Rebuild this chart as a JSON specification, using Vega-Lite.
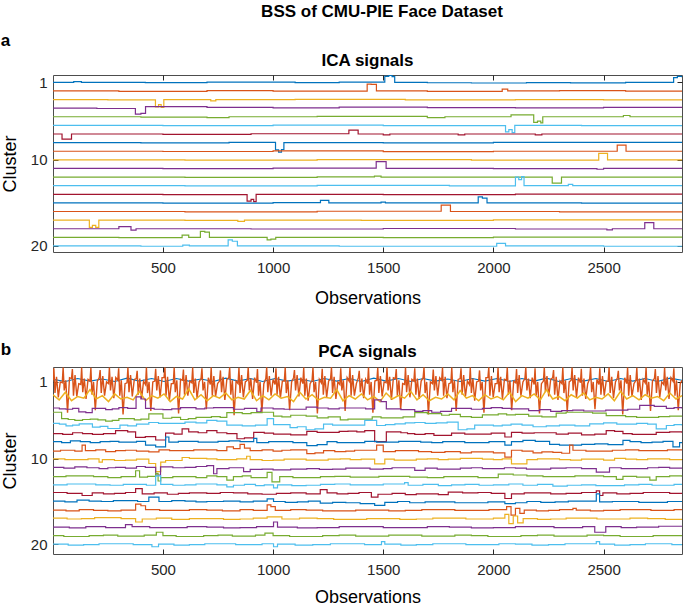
{
"$schema":"https://vega.github.io/schema/vega-lite/v6.json",
"padding":{"top":3,"left":0,"right":2,"bottom":0},
"config":{
"font":"Liberation Sans",
"view":{"stroke":"#4d4d4d","strokeWidth":1},
"axis":{"grid":false,"domain":false,"tickColor":"#262626","tickSize":-5,"tickWidth":1,"labelFontSize":15,"labelColor":"#262626","titleFontSize":18,"titleFontWeight":"normal","titleColor":"#000","labelFont":"Liberation Sans","titleFont":"Liberation Sans"},
"title":{"fontSize":17,"fontWeight":"bold","font":"Liberation Sans","color":"#000"}
},
"title":{"text":"BSS of CMU-PIE Face Dataset","anchor":"middle","fontSize":17,"dx":39,"dy":-7},
"spacing":33,
"datasets":{
"ica":[
{"k":1,"x":1,"y":1},{"k":1,"x":95,"y":0.92},{"k":1,"x":130,"y":1},{"k":1,"x":420,"y":1.04},{"k":1,"x":700,"y":0.97},{"k":1,"x":1100,"y":1.04},{"k":1,"x":1300,"y":0.97},{"k":1,"x":1507,"y":0.3},{"k":1,"x":1525,"y":0.2},{"k":1,"x":1540,"y":0.35},{"k":1,"x":1552,"y":1},{"k":1,"x":1700,"y":1.05},{"k":1,"x":1900,"y":1.08},{"k":1,"x":2150,"y":1.03},{"k":1,"x":2350,"y":1.07},{"k":1,"x":2600,"y":1},{"k":1,"x":2818,"y":0.45},{"k":1,"x":2835,"y":0.3},{"k":1,"x":2856,"y":0.4},
{"k":2,"x":1,"y":2},{"k":2,"x":300,"y":2.04},{"k":2,"x":700,"y":1.97},{"k":2,"x":1000,"y":2.03},{"k":2,"x":1427,"y":1.2},{"k":2,"x":1445,"y":1.25},{"k":2,"x":1469,"y":2},{"k":2,"x":1700,"y":2.04},{"k":2,"x":2040,"y":1.8},{"k":2,"x":2065,"y":2},{"k":2,"x":2300,"y":1.96},{"k":2,"x":2600,"y":2.03},{"k":2,"x":2856,"y":2},
{"k":3,"x":1,"y":3},{"k":3,"x":250,"y":3.03},{"k":3,"x":466,"y":3.85},{"k":3,"x":480,"y":3.6},{"k":3,"x":492,"y":3.9},{"k":3,"x":504,"y":3},{"k":3,"x":717,"y":3.15},{"k":3,"x":740,"y":3},{"k":3,"x":1100,"y":2.97},{"k":3,"x":1600,"y":3.03},{"k":3,"x":2100,"y":3},{"k":3,"x":2500,"y":3.04},{"k":3,"x":2856,"y":3},
{"k":4,"x":1,"y":4},{"k":4,"x":200,"y":4.04},{"k":4,"x":375,"y":4.7},{"k":4,"x":400,"y":4.6},{"k":4,"x":421,"y":3.83},{"k":4,"x":700,"y":3.9},{"k":4,"x":1000,"y":3.96},{"k":4,"x":1300,"y":3.89},{"k":4,"x":1700,"y":3.94},{"k":4,"x":2100,"y":3.96},{"k":4,"x":2500,"y":3.9},{"k":4,"x":2856,"y":3.95},
{"k":5,"x":1,"y":5},{"k":5,"x":400,"y":5.04},{"k":5,"x":700,"y":5.09},{"k":5,"x":800,"y":5},{"k":5,"x":1200,"y":4.96},{"k":5,"x":1700,"y":5.09},{"k":5,"x":1780,"y":5},{"k":5,"x":2080,"y":4.78},{"k":5,"x":2183,"y":5.65},{"k":5,"x":2200,"y":5.5},{"k":5,"x":2215,"y":5.7},{"k":5,"x":2224,"y":5},{"k":5,"x":2590,"y":4.85},{"k":5,"x":2620,"y":5},{"k":5,"x":2856,"y":5.02},
{"k":6,"x":1,"y":6},{"k":6,"x":500,"y":6.03},{"k":6,"x":1000,"y":5.97},{"k":6,"x":1500,"y":6.03},{"k":6,"x":2055,"y":6.75},{"k":6,"x":2070,"y":6.5},{"k":6,"x":2085,"y":6.85},{"k":6,"x":2097,"y":6},{"k":6,"x":2400,"y":6.03},{"k":6,"x":2856,"y":6},
{"k":7,"x":1,"y":7},{"k":7,"x":42,"y":7.6},{"k":7,"x":85,"y":7},{"k":7,"x":500,"y":7.04},{"k":7,"x":900,"y":6.97},{"k":7,"x":1344,"y":6.55},{"k":7,"x":1386,"y":7},{"k":7,"x":1500,"y":7.1},{"k":7,"x":1530,"y":7},{"k":7,"x":1840,"y":7.1},{"k":7,"x":1870,"y":7},{"k":7,"x":2190,"y":7.1},{"k":7,"x":2220,"y":7},{"k":7,"x":2856,"y":7.02},
{"k":8,"x":1,"y":8},{"k":8,"x":400,"y":8.03},{"k":8,"x":800,"y":7.97},{"k":8,"x":1011,"y":8.85},{"k":8,"x":1025,"y":9.1},{"k":8,"x":1038,"y":8.8},{"k":8,"x":1049,"y":8},{"k":8,"x":1500,"y":8.03},{"k":8,"x":2000,"y":7.97},{"k":8,"x":2856,"y":8},
{"k":9,"x":1,"y":9},{"k":9,"x":500,"y":9.03},{"k":9,"x":1000,"y":8.97},{"k":9,"x":1500,"y":9.04},{"k":9,"x":2000,"y":9},{"k":9,"x":2562,"y":8.3},{"k":9,"x":2602,"y":9},{"k":9,"x":2856,"y":9.02},
{"k":10,"x":1,"y":10},{"k":10,"x":600,"y":10.03},{"k":10,"x":1200,"y":9.97},{"k":10,"x":1900,"y":10.03},{"k":10,"x":2478,"y":9.25},{"k":10,"x":2518,"y":10},{"k":10,"x":2856,"y":10},
{"k":11,"x":1,"y":11},{"k":11,"x":500,"y":11.03},{"k":11,"x":1000,"y":10.97},{"k":11,"x":1468,"y":10.2},{"k":11,"x":1513,"y":11},{"k":11,"x":2000,"y":11.03},{"k":11,"x":2470,"y":11.09},{"k":11,"x":2500,"y":11},{"k":11,"x":2856,"y":11.02},
{"k":12,"x":1,"y":12},{"k":12,"x":600,"y":12.03},{"k":12,"x":1200,"y":11.97},{"k":12,"x":1460,"y":11.88},{"k":12,"x":1490,"y":12},{"k":12,"x":2267,"y":12.7},{"k":12,"x":2309,"y":12},{"k":12,"x":2856,"y":12.02},
{"k":13,"x":1,"y":13},{"k":13,"x":600,"y":13.03},{"k":13,"x":1200,"y":12.97},{"k":13,"x":1800,"y":13.03},{"k":13,"x":2100,"y":12},{"k":13,"x":2115,"y":12.3},{"k":13,"x":2128,"y":11.95},{"k":13,"x":2139,"y":13},{"k":13,"x":2340,"y":12.85},{"k":13,"x":2360,"y":13},{"k":13,"x":2856,"y":13},
{"k":14,"x":1,"y":14},{"k":14,"x":500,"y":14.03},{"k":14,"x":882,"y":14.8},{"k":14,"x":900,"y":14.6},{"k":14,"x":912,"y":14.85},{"k":14,"x":923,"y":14},{"k":14,"x":1500,"y":14.03},{"k":14,"x":2100,"y":13.97},{"k":14,"x":2856,"y":14},
{"k":15,"x":1,"y":15},{"k":15,"x":500,"y":15.03},{"k":15,"x":1000,"y":14.97},{"k":15,"x":1215,"y":14.7},{"k":15,"x":1253,"y":15},{"k":15,"x":1490,"y":14.9},{"k":15,"x":1510,"y":15},{"k":15,"x":1931,"y":14.3},{"k":15,"x":1950,"y":14.45},{"k":15,"x":1971,"y":15},{"k":15,"x":2400,"y":15.03},{"k":15,"x":2856,"y":15},
{"k":16,"x":1,"y":16},{"k":16,"x":600,"y":16.03},{"k":16,"x":1200,"y":15.97},{"k":16,"x":1763,"y":15.25},{"k":16,"x":1805,"y":16},{"k":16,"x":2300,"y":16.03},{"k":16,"x":2856,"y":16},
{"k":17,"x":1,"y":17},{"k":17,"x":166,"y":17.85},{"k":17,"x":180,"y":17.6},{"k":17,"x":195,"y":17.85},{"k":17,"x":209,"y":17},{"k":17,"x":600,"y":17.03},{"k":17,"x":840,"y":17.15},{"k":17,"x":870,"y":17},{"k":17,"x":1400,"y":17.03},{"k":17,"x":2000,"y":16.97},{"k":17,"x":2856,"y":17},
{"k":18,"x":1,"y":18},{"k":18,"x":300,"y":17.75},{"k":18,"x":355,"y":18.15},{"k":18,"x":378,"y":18},{"k":18,"x":900,"y":18.03},{"k":18,"x":1500,"y":17.97},{"k":18,"x":2100,"y":18.03},{"k":18,"x":2515,"y":18.12},{"k":18,"x":2540,"y":18},{"k":18,"x":2687,"y":17.3},{"k":18,"x":2728,"y":18},{"k":18,"x":2856,"y":18},
{"k":19,"x":1,"y":19},{"k":19,"x":300,"y":19.03},{"k":19,"x":587,"y":18.75},{"k":19,"x":617,"y":19},{"k":19,"x":670,"y":18.3},{"k":19,"x":690,"y":18.4},{"k":19,"x":711,"y":19},{"k":19,"x":973,"y":19.3},{"k":19,"x":990,"y":19.2},{"k":19,"x":1012,"y":19},{"k":19,"x":1500,"y":19.03},{"k":19,"x":2000,"y":18.97},{"k":19,"x":2856,"y":19},
{"k":20,"x":1,"y":20},{"k":20,"x":400,"y":20.03},{"k":20,"x":590,"y":19.9},{"k":20,"x":620,"y":20},{"k":20,"x":796,"y":19.3},{"k":20,"x":815,"y":19.45},{"k":20,"x":838,"y":20},{"k":20,"x":1300,"y":20.03},{"k":20,"x":2015,"y":19.7},{"k":20,"x":2055,"y":20},{"k":20,"x":2500,"y":20.03},{"k":20,"x":2856,"y":20}
],
"pcaTop":[
{"k":1,"x":1,"y":0.7},{"k":1,"x":57,"y":0.95},{"k":1,"x":113,"y":0.6},{"k":1,"x":169,"y":0.9},{"k":1,"x":225,"y":0.65},{"k":1,"x":281,"y":0.95},{"k":1,"x":337,"y":0.55},{"k":1,"x":393,"y":0.9},{"k":1,"x":449,"y":0.6},{"k":1,"x":505,"y":0.95},{"k":1,"x":561,"y":0.6},{"k":1,"x":617,"y":0.9},{"k":1,"x":673,"y":0.65},{"k":1,"x":729,"y":0.95},{"k":1,"x":785,"y":0.55},{"k":1,"x":841,"y":0.9},{"k":1,"x":897,"y":0.6},{"k":1,"x":953,"y":0.95},{"k":1,"x":1009,"y":0.6},{"k":1,"x":1065,"y":0.9},{"k":1,"x":1121,"y":0.65},{"k":1,"x":1177,"y":0.95},{"k":1,"x":1233,"y":0.6},{"k":1,"x":1289,"y":0.9},{"k":1,"x":1345,"y":0.6},{"k":1,"x":1401,"y":0.95},{"k":1,"x":1457,"y":0.55},{"k":1,"x":1513,"y":0.9},{"k":1,"x":1569,"y":0.6},{"k":1,"x":1625,"y":0.95},{"k":1,"x":1681,"y":0.6},{"k":1,"x":1737,"y":0.9},{"k":1,"x":1793,"y":0.65},{"k":1,"x":1849,"y":0.95},{"k":1,"x":1905,"y":0.6},{"k":1,"x":1961,"y":0.9},{"k":1,"x":2017,"y":0.6},{"k":1,"x":2073,"y":0.95},{"k":1,"x":2129,"y":0.6},{"k":1,"x":2185,"y":0.9},{"k":1,"x":2241,"y":0.55},{"k":1,"x":2297,"y":0.95},{"k":1,"x":2353,"y":0.6},{"k":1,"x":2409,"y":0.9},{"k":1,"x":2465,"y":0.6},{"k":1,"x":2521,"y":0.95},{"k":1,"x":2577,"y":0.6},{"k":1,"x":2633,"y":0.9},{"k":1,"x":2689,"y":0.6},{"k":1,"x":2745,"y":0.95},{"k":1,"x":2801,"y":0.55},{"k":1,"x":2856,"y":0.8},
{"k":2,"x":1,"y":0.8},{"k":2,"x":5,"y":-0.6},{"k":2,"x":10,"y":2.3},{"k":2,"x":17,"y":0.4},{"k":2,"x":25,"y":2.8},{"k":2,"x":34,"y":1.0},
{"k":2,"x":43,"y":1.1},{"k":2,"x":47,"y":-0.7},{"k":2,"x":52,"y":2.0},{"k":2,"x":59,"y":0.8},{"k":2,"x":67,"y":4.6},{"k":2,"x":76,"y":0.5},
{"k":2,"x":85,"y":0.6},{"k":2,"x":89,"y":-0.5},{"k":2,"x":94,"y":2.6},{"k":2,"x":101,"y":0.2},{"k":2,"x":109,"y":2.7},{"k":2,"x":118,"y":1.2},
{"k":2,"x":127,"y":1.3},{"k":2,"x":131,"y":-0.7},{"k":2,"x":136,"y":2.2},{"k":2,"x":143,"y":0.6},{"k":2,"x":151,"y":3.0},{"k":2,"x":160,"y":0.7},
{"k":2,"x":169,"y":0.9},{"k":2,"x":173,"y":-0.65},{"k":2,"x":178,"y":2.5},{"k":2,"x":185,"y":1.0},{"k":2,"x":193,"y":4.3},{"k":2,"x":202,"y":0.9},
{"k":2,"x":211,"y":0.5},{"k":2,"x":215,"y":-0.4},{"k":2,"x":220,"y":2.3},{"k":2,"x":227,"y":0.3},{"k":2,"x":235,"y":2.6},{"k":2,"x":244,"y":1.0},
{"k":2,"x":253,"y":1.2},{"k":2,"x":257,"y":-0.7},{"k":2,"x":262,"y":2.0},{"k":2,"x":269,"y":0.4},{"k":2,"x":277,"y":2.9},{"k":2,"x":286,"y":0.5},
{"k":2,"x":295,"y":0.8},{"k":2,"x":299,"y":-0.6},{"k":2,"x":304,"y":2.6},{"k":2,"x":311,"y":0.8},{"k":2,"x":319,"y":4.8},{"k":2,"x":328,"y":1.2},
{"k":2,"x":337,"y":1.1},{"k":2,"x":341,"y":-0.7},{"k":2,"x":346,"y":2.2},{"k":2,"x":353,"y":0.2},{"k":2,"x":361,"y":2.7},{"k":2,"x":370,"y":0.7},
{"k":2,"x":379,"y":0.6},{"k":2,"x":383,"y":-0.3},{"k":2,"x":388,"y":2.5},{"k":2,"x":395,"y":0.6},{"k":2,"x":403,"y":3.0},{"k":2,"x":412,"y":0.9},
{"k":2,"x":421,"y":1.3},{"k":2,"x":425,"y":-0.7},{"k":2,"x":430,"y":2.3},{"k":2,"x":437,"y":1.0},{"k":2,"x":445,"y":4.4},{"k":2,"x":454,"y":1.0},
{"k":2,"x":463,"y":0.9},{"k":2,"x":467,"y":-0.55},{"k":2,"x":472,"y":2.0},{"k":2,"x":479,"y":0.3},{"k":2,"x":487,"y":2.8},{"k":2,"x":496,"y":0.5},
{"k":2,"x":505,"y":0.5},{"k":2,"x":509,"y":-0.7},{"k":2,"x":514,"y":2.6},{"k":2,"x":521,"y":0.4},{"k":2,"x":529,"y":3.2},{"k":2,"x":538,"y":1.2},
{"k":2,"x":547,"y":1.2},{"k":2,"x":551,"y":-0.7},{"k":2,"x":556,"y":2.2},{"k":2,"x":563,"y":0.8},{"k":2,"x":571,"y":4.7},{"k":2,"x":580,"y":0.7},
{"k":2,"x":589,"y":0.8},{"k":2,"x":593,"y":-0.45},{"k":2,"x":598,"y":2.5},{"k":2,"x":605,"y":0.2},{"k":2,"x":613,"y":2.6},{"k":2,"x":622,"y":0.9},
{"k":2,"x":631,"y":1.1},{"k":2,"x":635,"y":-0.7},{"k":2,"x":640,"y":2.3},{"k":2,"x":647,"y":0.6},{"k":2,"x":655,"y":2.9},{"k":2,"x":664,"y":1.0},
{"k":2,"x":673,"y":0.6},{"k":2,"x":677,"y":-0.6},{"k":2,"x":682,"y":2.0},{"k":2,"x":689,"y":1.0},{"k":2,"x":697,"y":4.2},{"k":2,"x":706,"y":0.5},
{"k":2,"x":715,"y":1.3},{"k":2,"x":719,"y":-0.7},{"k":2,"x":724,"y":2.6},{"k":2,"x":731,"y":0.3},{"k":2,"x":739,"y":2.7},{"k":2,"x":748,"y":1.2},
{"k":2,"x":757,"y":0.9},{"k":2,"x":761,"y":-0.35},{"k":2,"x":766,"y":2.2},{"k":2,"x":773,"y":0.4},{"k":2,"x":781,"y":3.1},{"k":2,"x":790,"y":0.7},
{"k":2,"x":799,"y":0.5},{"k":2,"x":803,"y":-0.7},{"k":2,"x":808,"y":2.5},{"k":2,"x":815,"y":0.8},{"k":2,"x":823,"y":4.9},{"k":2,"x":832,"y":0.9},
{"k":2,"x":841,"y":1.2},{"k":2,"x":845,"y":-0.65},{"k":2,"x":850,"y":2.3},{"k":2,"x":857,"y":0.2},{"k":2,"x":865,"y":2.8},{"k":2,"x":874,"y":1.0},
{"k":2,"x":883,"y":0.8},{"k":2,"x":887,"y":-0.7},{"k":2,"x":892,"y":2.0},{"k":2,"x":899,"y":0.6},{"k":2,"x":907,"y":3.0},{"k":2,"x":916,"y":0.5},
{"k":2,"x":925,"y":1.1},{"k":2,"x":929,"y":-0.5},{"k":2,"x":934,"y":2.6},{"k":2,"x":941,"y":1.0},{"k":2,"x":949,"y":4.5},{"k":2,"x":958,"y":1.2},
{"k":2,"x":967,"y":0.6},{"k":2,"x":971,"y":-0.7},{"k":2,"x":976,"y":2.2},{"k":2,"x":983,"y":0.3},{"k":2,"x":991,"y":2.6},{"k":2,"x":1000,"y":0.7},
{"k":2,"x":1009,"y":1.3},{"k":2,"x":1013,"y":-0.6},{"k":2,"x":1018,"y":2.5},{"k":2,"x":1025,"y":0.4},{"k":2,"x":1033,"y":2.9},{"k":2,"x":1042,"y":0.9},
{"k":2,"x":1051,"y":0.9},{"k":2,"x":1055,"y":-0.7},{"k":2,"x":1060,"y":2.3},{"k":2,"x":1067,"y":0.8},{"k":2,"x":1075,"y":4.3},{"k":2,"x":1084,"y":1.0},
{"k":2,"x":1093,"y":0.5},{"k":2,"x":1097,"y":-0.4},{"k":2,"x":1102,"y":2.0},{"k":2,"x":1109,"y":0.2},{"k":2,"x":1117,"y":2.7},{"k":2,"x":1126,"y":0.5},
{"k":2,"x":1135,"y":1.2},{"k":2,"x":1139,"y":-0.7},{"k":2,"x":1144,"y":2.6},{"k":2,"x":1151,"y":0.6},{"k":2,"x":1159,"y":3.2},{"k":2,"x":1168,"y":1.2},
{"k":2,"x":1177,"y":0.8},{"k":2,"x":1181,"y":-0.7},{"k":2,"x":1186,"y":2.2},{"k":2,"x":1193,"y":1.0},{"k":2,"x":1201,"y":4.7},{"k":2,"x":1210,"y":0.7},
{"k":2,"x":1219,"y":1.1},{"k":2,"x":1223,"y":-0.55},{"k":2,"x":1228,"y":2.5},{"k":2,"x":1235,"y":0.3},{"k":2,"x":1243,"y":2.8},{"k":2,"x":1252,"y":0.9},
{"k":2,"x":1261,"y":0.6},{"k":2,"x":1265,"y":-0.7},{"k":2,"x":1270,"y":2.3},{"k":2,"x":1277,"y":0.4},{"k":2,"x":1285,"y":3.0},{"k":2,"x":1294,"y":1.0},
{"k":2,"x":1303,"y":1.3},{"k":2,"x":1307,"y":-0.6},{"k":2,"x":1312,"y":2.0},{"k":2,"x":1319,"y":0.8},{"k":2,"x":1327,"y":4.4},{"k":2,"x":1336,"y":0.5},
{"k":2,"x":1345,"y":0.9},{"k":2,"x":1349,"y":-0.7},{"k":2,"x":1354,"y":2.6},{"k":2,"x":1361,"y":0.2},{"k":2,"x":1369,"y":2.6},{"k":2,"x":1378,"y":1.2},
{"k":2,"x":1387,"y":0.5},{"k":2,"x":1391,"y":-0.3},{"k":2,"x":1396,"y":2.2},{"k":2,"x":1403,"y":0.6},{"k":2,"x":1411,"y":2.9},{"k":2,"x":1420,"y":0.7},
{"k":2,"x":1429,"y":1.2},{"k":2,"x":1433,"y":-0.7},{"k":2,"x":1438,"y":2.5},{"k":2,"x":1445,"y":1.0},{"k":2,"x":1453,"y":4.6},{"k":2,"x":1462,"y":0.9},
{"k":2,"x":1471,"y":0.8},{"k":2,"x":1475,"y":-0.65},{"k":2,"x":1480,"y":2.3},{"k":2,"x":1487,"y":0.3},{"k":2,"x":1495,"y":2.7},{"k":2,"x":1504,"y":1.0},
{"k":2,"x":1513,"y":1.1},{"k":2,"x":1517,"y":-0.7},{"k":2,"x":1522,"y":2.0},{"k":2,"x":1529,"y":0.4},{"k":2,"x":1537,"y":3.1},{"k":2,"x":1546,"y":0.5},
{"k":2,"x":1555,"y":0.6},{"k":2,"x":1559,"y":-0.5},{"k":2,"x":1564,"y":2.6},{"k":2,"x":1571,"y":0.8},{"k":2,"x":1579,"y":4.2},{"k":2,"x":1588,"y":1.2},
{"k":2,"x":1597,"y":1.3},{"k":2,"x":1601,"y":-0.7},{"k":2,"x":1606,"y":2.2},{"k":2,"x":1613,"y":0.2},{"k":2,"x":1621,"y":2.8},{"k":2,"x":1630,"y":0.7},
{"k":2,"x":1639,"y":0.9},{"k":2,"x":1643,"y":-0.6},{"k":2,"x":1648,"y":2.5},{"k":2,"x":1655,"y":0.6},{"k":2,"x":1663,"y":3.0},{"k":2,"x":1672,"y":0.9},
{"k":2,"x":1681,"y":0.5},{"k":2,"x":1685,"y":-0.7},{"k":2,"x":1690,"y":2.3},{"k":2,"x":1697,"y":1.0},{"k":2,"x":1705,"y":4.8},{"k":2,"x":1714,"y":1.0},
{"k":2,"x":1723,"y":1.2},{"k":2,"x":1727,"y":-0.45},{"k":2,"x":1732,"y":2.0},{"k":2,"x":1739,"y":0.3},{"k":2,"x":1747,"y":2.6},{"k":2,"x":1756,"y":0.5},
{"k":2,"x":1765,"y":0.8},{"k":2,"x":1769,"y":-0.7},{"k":2,"x":1774,"y":2.6},{"k":2,"x":1781,"y":0.4},{"k":2,"x":1789,"y":2.9},{"k":2,"x":1798,"y":1.2},
{"k":2,"x":1807,"y":1.1},{"k":2,"x":1811,"y":-0.7},{"k":2,"x":1816,"y":2.2},{"k":2,"x":1823,"y":0.8},{"k":2,"x":1831,"y":4.4},{"k":2,"x":1840,"y":0.7},
{"k":2,"x":1849,"y":0.6},{"k":2,"x":1853,"y":-0.6},{"k":2,"x":1858,"y":2.5},{"k":2,"x":1865,"y":0.2},{"k":2,"x":1873,"y":2.7},{"k":2,"x":1882,"y":0.9},
{"k":2,"x":1891,"y":1.3},{"k":2,"x":1895,"y":-0.7},{"k":2,"x":1900,"y":2.3},{"k":2,"x":1907,"y":0.6},{"k":2,"x":1915,"y":3.2},{"k":2,"x":1924,"y":1.0},
{"k":2,"x":1933,"y":0.9},{"k":2,"x":1937,"y":-0.35},{"k":2,"x":1942,"y":2.0},{"k":2,"x":1949,"y":1.0},{"k":2,"x":1957,"y":4.6},{"k":2,"x":1966,"y":0.5},
{"k":2,"x":1975,"y":0.5},{"k":2,"x":1979,"y":-0.7},{"k":2,"x":1984,"y":2.6},{"k":2,"x":1991,"y":0.3},{"k":2,"x":1999,"y":2.8},{"k":2,"x":2008,"y":1.2},
{"k":2,"x":2017,"y":1.2},{"k":2,"x":2021,"y":-0.65},{"k":2,"x":2026,"y":2.2},{"k":2,"x":2033,"y":0.4},{"k":2,"x":2041,"y":3.0},{"k":2,"x":2050,"y":0.7},
{"k":2,"x":2059,"y":0.8},{"k":2,"x":2063,"y":-0.7},{"k":2,"x":2068,"y":2.5},{"k":2,"x":2075,"y":0.8},{"k":2,"x":2083,"y":4.3},{"k":2,"x":2092,"y":0.9},
{"k":2,"x":2101,"y":1.1},{"k":2,"x":2105,"y":-0.5},{"k":2,"x":2110,"y":2.3},{"k":2,"x":2117,"y":0.2},{"k":2,"x":2125,"y":2.6},{"k":2,"x":2134,"y":1.0},
{"k":2,"x":2143,"y":0.6},{"k":2,"x":2147,"y":-0.7},{"k":2,"x":2152,"y":2.0},{"k":2,"x":2159,"y":0.6},{"k":2,"x":2167,"y":2.9},{"k":2,"x":2176,"y":0.5},
{"k":2,"x":2185,"y":1.3},{"k":2,"x":2189,"y":-0.6},{"k":2,"x":2194,"y":2.6},{"k":2,"x":2201,"y":1.0},{"k":2,"x":2209,"y":4.7},{"k":2,"x":2218,"y":1.2},
{"k":2,"x":2227,"y":0.9},{"k":2,"x":2231,"y":-0.7},{"k":2,"x":2236,"y":2.2},{"k":2,"x":2243,"y":0.3},{"k":2,"x":2251,"y":2.7},{"k":2,"x":2260,"y":0.7},
{"k":2,"x":2269,"y":0.5},{"k":2,"x":2273,"y":-0.4},{"k":2,"x":2278,"y":2.5},{"k":2,"x":2285,"y":0.4},{"k":2,"x":2293,"y":3.1},{"k":2,"x":2302,"y":0.9},
{"k":2,"x":2311,"y":1.2},{"k":2,"x":2315,"y":-0.7},{"k":2,"x":2320,"y":2.3},{"k":2,"x":2327,"y":0.8},{"k":2,"x":2335,"y":4.5},{"k":2,"x":2344,"y":1.0},
{"k":2,"x":2353,"y":0.8},{"k":2,"x":2357,"y":-0.7},{"k":2,"x":2362,"y":2.0},{"k":2,"x":2369,"y":0.2},{"k":2,"x":2377,"y":2.8},{"k":2,"x":2386,"y":0.5},
{"k":2,"x":2395,"y":1.1},{"k":2,"x":2399,"y":-0.55},{"k":2,"x":2404,"y":2.6},{"k":2,"x":2411,"y":0.6},{"k":2,"x":2419,"y":3.0},{"k":2,"x":2428,"y":1.2},
{"k":2,"x":2437,"y":0.6},{"k":2,"x":2441,"y":-0.7},{"k":2,"x":2446,"y":2.2},{"k":2,"x":2453,"y":1.0},{"k":2,"x":2461,"y":4.2},{"k":2,"x":2470,"y":0.7},
{"k":2,"x":2479,"y":1.3},{"k":2,"x":2483,"y":-0.6},{"k":2,"x":2488,"y":2.5},{"k":2,"x":2495,"y":0.3},{"k":2,"x":2503,"y":2.6},{"k":2,"x":2512,"y":0.9},
{"k":2,"x":2521,"y":0.9},{"k":2,"x":2525,"y":-0.7},{"k":2,"x":2530,"y":2.3},{"k":2,"x":2537,"y":0.4},{"k":2,"x":2545,"y":2.9},{"k":2,"x":2554,"y":1.0},
{"k":2,"x":2563,"y":0.5},{"k":2,"x":2567,"y":-0.3},{"k":2,"x":2572,"y":2.0},{"k":2,"x":2579,"y":0.8},{"k":2,"x":2587,"y":4.8},{"k":2,"x":2596,"y":0.5},
{"k":2,"x":2605,"y":1.2},{"k":2,"x":2609,"y":-0.7},{"k":2,"x":2614,"y":2.6},{"k":2,"x":2621,"y":0.2},{"k":2,"x":2629,"y":2.7},{"k":2,"x":2638,"y":1.2},
{"k":2,"x":2647,"y":0.8},{"k":2,"x":2651,"y":-0.65},{"k":2,"x":2656,"y":2.2},{"k":2,"x":2663,"y":0.6},{"k":2,"x":2671,"y":3.1},{"k":2,"x":2680,"y":0.7},
{"k":2,"x":2689,"y":1.1},{"k":2,"x":2693,"y":-0.7},{"k":2,"x":2698,"y":2.5},{"k":2,"x":2705,"y":1.0},{"k":2,"x":2713,"y":4.4},{"k":2,"x":2722,"y":0.9},
{"k":2,"x":2731,"y":0.6},{"k":2,"x":2735,"y":-0.5},{"k":2,"x":2740,"y":2.3},{"k":2,"x":2747,"y":0.3},{"k":2,"x":2755,"y":2.8},{"k":2,"x":2764,"y":1.0},
{"k":2,"x":2773,"y":1.3},{"k":2,"x":2777,"y":-0.7},{"k":2,"x":2782,"y":2.0},{"k":2,"x":2789,"y":0.4},{"k":2,"x":2797,"y":3.0},{"k":2,"x":2806,"y":0.5},
{"k":2,"x":2815,"y":0.9},{"k":2,"x":2819,"y":-0.6},{"k":2,"x":2824,"y":2.6},{"k":2,"x":2831,"y":0.8},{"k":2,"x":2839,"y":4.3},{"k":2,"x":2848,"y":1.2},
{"k":2,"x":2856,"y":0.8},
{"k":3,"x":1,"y":2.5},{"k":3,"x":29,"y":3.1},{"k":3,"x":57,"y":2.2},{"k":3,"x":85,"y":3.2},{"k":3,"x":113,"y":2.7},{"k":3,"x":141,"y":2.9},{"k":3,"x":169,"y":1.9},{"k":3,"x":197,"y":3.0},{"k":3,"x":225,"y":2.6},{"k":3,"x":253,"y":3.3},{"k":3,"x":281,"y":2.4},{"k":3,"x":309,"y":3.0},{"k":3,"x":337,"y":2.8},{"k":3,"x":365,"y":3.1},{"k":3,"x":393,"y":2.1},{"k":3,"x":421,"y":3.2},{"k":3,"x":449,"y":2.6},{"k":3,"x":477,"y":2.9},{"k":3,"x":505,"y":2.4},{"k":3,"x":533,"y":3.3},{"k":3,"x":561,"y":2.7},{"k":3,"x":589,"y":3.0},{"k":3,"x":617,"y":1.8},{"k":3,"x":645,"y":3.1},{"k":3,"x":673,"y":2.5},{"k":3,"x":701,"y":3.2},{"k":3,"x":729,"y":2.6},{"k":3,"x":757,"y":2.9},{"k":3,"x":785,"y":2.3},{"k":3,"x":813,"y":3.1},{"k":3,"x":841,"y":2.8},{"k":3,"x":869,"y":3.0},{"k":3,"x":897,"y":2.0},{"k":3,"x":925,"y":3.2},{"k":3,"x":953,"y":2.6},{"k":3,"x":981,"y":3.1},{"k":3,"x":1009,"y":2.4},{"k":3,"x":1037,"y":2.9},{"k":3,"x":1065,"y":2.7},{"k":3,"x":1093,"y":3.3},{"k":3,"x":1121,"y":2.2},{"k":3,"x":1149,"y":3.0},{"k":3,"x":1177,"y":2.5},{"k":3,"x":1205,"y":3.1},{"k":3,"x":1233,"y":2.8},{"k":3,"x":1261,"y":2.9},{"k":3,"x":1289,"y":1.9},{"k":3,"x":1317,"y":3.2},{"k":3,"x":1345,"y":2.6},{"k":3,"x":1373,"y":3.0},{"k":3,"x":1401,"y":2.4},{"k":3,"x":1429,"y":3.1},{"k":3,"x":1457,"y":2.7},{"k":3,"x":1485,"y":3.3},{"k":3,"x":1513,"y":2.3},{"k":3,"x":1541,"y":3.0},{"k":3,"x":1569,"y":2.6},{"k":3,"x":1597,"y":2.9},{"k":3,"x":1625,"y":2.1},{"k":3,"x":1653,"y":3.1},{"k":3,"x":1681,"y":2.5},{"k":3,"x":1709,"y":3.2},{"k":3,"x":1737,"y":2.8},{"k":3,"x":1765,"y":3.0},{"k":3,"x":1793,"y":2.4},{"k":3,"x":1821,"y":3.1},{"k":3,"x":1849,"y":2.0},{"k":3,"x":1877,"y":2.9},{"k":3,"x":1905,"y":2.6},{"k":3,"x":1933,"y":3.2},{"k":3,"x":1961,"y":2.5},{"k":3,"x":1989,"y":3.0},{"k":3,"x":2017,"y":2.7},{"k":3,"x":2045,"y":3.1},{"k":3,"x":2073,"y":2.2},{"k":3,"x":2101,"y":3.3},{"k":3,"x":2129,"y":2.6},{"k":3,"x":2157,"y":2.9},{"k":3,"x":2185,"y":2.4},{"k":3,"x":2213,"y":3.1},{"k":3,"x":2241,"y":1.9},{"k":3,"x":2269,"y":3.0},{"k":3,"x":2297,"y":2.7},{"k":3,"x":2325,"y":3.2},{"k":3,"x":2353,"y":2.5},{"k":3,"x":2381,"y":2.9},{"k":3,"x":2409,"y":2.3},{"k":3,"x":2437,"y":3.1},{"k":3,"x":2465,"y":2.8},{"k":3,"x":2493,"y":3.0},{"k":3,"x":2521,"y":2.4},{"k":3,"x":2549,"y":3.2},{"k":3,"x":2577,"y":2.1},{"k":3,"x":2605,"y":3.0},{"k":3,"x":2633,"y":2.6},{"k":3,"x":2661,"y":3.1},{"k":3,"x":2689,"y":2.5},{"k":3,"x":2717,"y":2.9},{"k":3,"x":2745,"y":2.7},{"k":3,"x":2773,"y":3.2},{"k":3,"x":2801,"y":2.3},{"k":3,"x":2829,"y":3.0},{"k":3,"x":2856,"y":2.6}
],
"pcaRest":[
{"k":4,"x":1,"y":4.05},{"k":4,"x":60,"y":4.2},{"k":4,"x":118,"y":4.5},{"k":4,"x":179,"y":4.1},{"k":4,"x":240,"y":4.25},{"k":4,"x":300,"y":4.0},{"k":4,"x":378,"y":2.75},{"k":4,"x":400,"y":3.0},{"k":4,"x":421,"y":4.1},{"k":4,"x":500,"y":4.25},{"k":4,"x":580,"y":4.0},{"k":4,"x":650,"y":4.15},{"k":4,"x":730,"y":4.0},{"k":4,"x":820,"y":4.2},{"k":4,"x":926,"y":4.5},{"k":4,"x":945,"y":4.05},{"k":4,"x":1050,"y":4.2},{"k":4,"x":1150,"y":3.95},{"k":4,"x":1250,"y":4.15},{"k":4,"x":1350,"y":4.05},{"k":4,"x":1461,"y":3.1},{"k":4,"x":1490,"y":3.3},{"k":4,"x":1514,"y":4.15},{"k":4,"x":1580,"y":4.25},{"k":4,"x":1643,"y":4.45},{"k":4,"x":1720,"y":4.55},{"k":4,"x":1810,"y":4.1},{"k":4,"x":1900,"y":4.2},{"k":4,"x":1990,"y":4.0},{"k":4,"x":2080,"y":4.15},{"k":4,"x":2160,"y":4.35},{"k":4,"x":2260,"y":4.45},{"k":4,"x":2360,"y":4.3},{"k":4,"x":2460,"y":4.4},{"k":4,"x":2560,"y":4.3},{"k":4,"x":2664,"y":3.75},{"k":4,"x":2730,"y":3.85},{"k":4,"x":2785,"y":4.1},{"k":4,"x":2856,"y":4.1},
{"k":5,"x":1,"y":4.55},{"k":5,"x":40,"y":5.3},{"k":5,"x":100,"y":5.5},{"k":5,"x":170,"y":5.35},{"k":5,"x":240,"y":5.6},{"k":5,"x":300,"y":5.3},{"k":5,"x":370,"y":5.45},{"k":5,"x":436,"y":4.75},{"k":5,"x":500,"y":5.25},{"k":5,"x":580,"y":5.4},{"k":5,"x":650,"y":5.15},{"k":5,"x":720,"y":5.05},{"k":5,"x":790,"y":4.6},{"k":5,"x":860,"y":4.7},{"k":5,"x":950,"y":4.55},{"k":5,"x":1002,"y":5.0},{"k":5,"x":1080,"y":4.9},{"k":5,"x":1150,"y":5.0},{"k":5,"x":1200,"y":5.2},{"k":5,"x":1305,"y":5.45},{"k":5,"x":1380,"y":5.35},{"k":5,"x":1450,"y":5.1},{"k":5,"x":1530,"y":5.2},{"k":5,"x":1643,"y":4.6},{"k":5,"x":1700,"y":4.7},{"k":5,"x":1765,"y":4.9},{"k":5,"x":1850,"y":5.05},{"k":5,"x":1950,"y":4.85},{"k":5,"x":2022,"y":4.75},{"k":5,"x":2100,"y":4.8},{"k":5,"x":2160,"y":5.0},{"k":5,"x":2285,"y":4.65},{"k":5,"x":2380,"y":4.55},{"k":5,"x":2512,"y":4.95},{"k":5,"x":2600,"y":5.05},{"k":5,"x":2710,"y":5.15},{"k":5,"x":2800,"y":5.0},{"k":5,"x":2856,"y":5.0},
{"k":6,"x":1,"y":5.85},{"k":6,"x":60,"y":6.15},{"k":6,"x":120,"y":5.9},{"k":6,"x":180,"y":6.3},{"k":6,"x":250,"y":6.45},{"k":6,"x":305,"y":6.05},{"k":6,"x":380,"y":5.95},{"k":6,"x":436,"y":5.75},{"k":6,"x":520,"y":5.85},{"k":6,"x":600,"y":5.7},{"k":6,"x":699,"y":5.5},{"k":6,"x":790,"y":6.05},{"k":6,"x":860,"y":6.15},{"k":6,"x":973,"y":5.3},{"k":6,"x":1002,"y":6.0},{"k":6,"x":1077,"y":6.35},{"k":6,"x":1150,"y":6.6},{"k":6,"x":1229,"y":5.95},{"k":6,"x":1320,"y":6.05},{"k":6,"x":1416,"y":5.5},{"k":6,"x":1470,"y":6.1},{"k":6,"x":1553,"y":5.9},{"k":6,"x":1643,"y":5.75},{"k":6,"x":1740,"y":5.8},{"k":6,"x":1840,"y":6.6},{"k":6,"x":1915,"y":6.05},{"k":6,"x":2000,"y":6.15},{"k":6,"x":2080,"y":5.95},{"k":6,"x":2180,"y":6.25},{"k":6,"x":2300,"y":6.05},{"k":6,"x":2437,"y":5.9},{"k":6,"x":2560,"y":5.95},{"k":6,"x":2650,"y":5.85},{"k":6,"x":2739,"y":6.5},{"k":6,"x":2785,"y":6.1},{"k":6,"x":2856,"y":6.1},
{"k":7,"x":1,"y":7.05},{"k":7,"x":90,"y":6.95},{"k":7,"x":180,"y":7.15},{"k":7,"x":285,"y":6.7},{"k":7,"x":340,"y":6.85},{"k":7,"x":376,"y":7.5},{"k":7,"x":467,"y":7.8},{"k":7,"x":512,"y":7.0},{"k":7,"x":587,"y":6.5},{"k":7,"x":617,"y":6.85},{"k":7,"x":699,"y":6.7},{"k":7,"x":745,"y":6.95},{"k":7,"x":836,"y":7.65},{"k":7,"x":912,"y":6.9},{"k":7,"x":1002,"y":7.1},{"k":7,"x":1080,"y":7.2},{"k":7,"x":1153,"y":6.8},{"k":7,"x":1250,"y":6.9},{"k":7,"x":1340,"y":6.75},{"k":7,"x":1416,"y":6.7},{"k":7,"x":1461,"y":8.0},{"k":7,"x":1514,"y":6.85},{"k":7,"x":1580,"y":6.95},{"k":7,"x":1643,"y":7.15},{"k":7,"x":1730,"y":7.25},{"k":7,"x":1810,"y":7.0},{"k":7,"x":1930,"y":7.1},{"k":7,"x":2052,"y":7.45},{"k":7,"x":2082,"y":6.9},{"k":7,"x":2185,"y":6.95},{"k":7,"x":2285,"y":7.1},{"k":7,"x":2400,"y":7.2},{"k":7,"x":2512,"y":6.7},{"k":7,"x":2588,"y":7.05},{"k":7,"x":2680,"y":7.15},{"k":7,"x":2739,"y":6.9},{"k":7,"x":2856,"y":6.95},
{"k":8,"x":1,"y":8.0},{"k":8,"x":80,"y":7.9},{"k":8,"x":170,"y":8.1},{"k":8,"x":260,"y":7.95},{"k":8,"x":340,"y":8.05},{"k":8,"x":421,"y":8.4},{"k":8,"x":467,"y":8.6},{"k":8,"x":512,"y":7.45},{"k":8,"x":527,"y":8.05},{"k":8,"x":620,"y":7.95},{"k":8,"x":699,"y":8.05},{"k":8,"x":800,"y":7.9},{"k":8,"x":912,"y":7.6},{"k":8,"x":926,"y":8.1},{"k":8,"x":1040,"y":8.0},{"k":8,"x":1153,"y":8.45},{"k":8,"x":1245,"y":8.0},{"k":8,"x":1340,"y":8.1},{"k":8,"x":1416,"y":7.95},{"k":8,"x":1520,"y":8.05},{"k":8,"x":1620,"y":7.95},{"k":8,"x":1720,"y":8.1},{"k":8,"x":1820,"y":8.0},{"k":8,"x":1920,"y":8.1},{"k":8,"x":2052,"y":8.4},{"k":8,"x":2082,"y":8.0},{"k":8,"x":2134,"y":7.85},{"k":8,"x":2255,"y":8.3},{"k":8,"x":2350,"y":8.4},{"k":8,"x":2460,"y":8.25},{"k":8,"x":2588,"y":7.85},{"k":8,"x":2620,"y":8.0},{"k":8,"x":2720,"y":8.05},{"k":8,"x":2815,"y":8.6},{"k":8,"x":2845,"y":8.1},{"k":8,"x":2856,"y":8.1},
{"k":9,"x":1,"y":9.1},{"k":9,"x":70,"y":9.0},{"k":9,"x":133,"y":8.4},{"k":9,"x":148,"y":9.05},{"k":9,"x":240,"y":9.15},{"k":9,"x":330,"y":9.0},{"k":9,"x":436,"y":9.2},{"k":9,"x":482,"y":8.95},{"k":9,"x":580,"y":9.05},{"k":9,"x":699,"y":8.95},{"k":9,"x":790,"y":8.6},{"k":9,"x":820,"y":8.8},{"k":9,"x":850,"y":8.3},{"k":9,"x":870,"y":8.75},{"k":9,"x":896,"y":9.05},{"k":9,"x":1000,"y":9.1},{"k":9,"x":1080,"y":8.95},{"k":9,"x":1153,"y":9.4},{"k":9,"x":1229,"y":9.05},{"k":9,"x":1330,"y":9.1},{"k":9,"x":1416,"y":9.0},{"k":9,"x":1470,"y":8.4},{"k":9,"x":1500,"y":9.15},{"k":9,"x":1610,"y":9.05},{"k":9,"x":1719,"y":9.25},{"k":9,"x":1850,"y":9.3},{"k":9,"x":1960,"y":9.2},{"k":9,"x":2052,"y":9.8},{"k":9,"x":2082,"y":9.0},{"k":9,"x":2180,"y":9.3},{"k":9,"x":2270,"y":9.25},{"k":9,"x":2346,"y":8.4},{"k":9,"x":2361,"y":9.0},{"k":9,"x":2480,"y":9.1},{"k":9,"x":2600,"y":8.95},{"k":9,"x":2720,"y":9.05},{"k":9,"x":2856,"y":9.0},
{"k":10,"x":1,"y":10.0},{"k":10,"x":110,"y":10.1},{"k":10,"x":210,"y":10.4},{"k":10,"x":225,"y":10.1},{"k":10,"x":330,"y":10.15},{"k":10,"x":436,"y":10.55},{"k":10,"x":467,"y":11.5},{"k":10,"x":490,"y":10.4},{"k":10,"x":512,"y":10.2},{"k":10,"x":587,"y":9.85},{"k":10,"x":650,"y":9.95},{"k":10,"x":699,"y":10.0},{"k":10,"x":790,"y":10.1},{"k":10,"x":880,"y":9.7},{"k":10,"x":896,"y":10.1},{"k":10,"x":1000,"y":10.15},{"k":10,"x":1100,"y":10.05},{"k":10,"x":1200,"y":10.15},{"k":10,"x":1305,"y":10.0},{"k":10,"x":1400,"y":10.05},{"k":10,"x":1461,"y":10.6},{"k":10,"x":1507,"y":10.05},{"k":10,"x":1600,"y":10.15},{"k":10,"x":1700,"y":10.0},{"k":10,"x":1795,"y":10.05},{"k":10,"x":1900,"y":9.95},{"k":10,"x":2000,"y":10.1},{"k":10,"x":2082,"y":10.6},{"k":10,"x":2152,"y":10.1},{"k":10,"x":2250,"y":10.0},{"k":10,"x":2350,"y":10.15},{"k":10,"x":2450,"y":10.05},{"k":10,"x":2550,"y":9.95},{"k":10,"x":2650,"y":10.1},{"k":10,"x":2750,"y":10.0},{"k":10,"x":2856,"y":10.05},
{"k":11,"x":1,"y":11.0},{"k":11,"x":100,"y":10.95},{"k":11,"x":210,"y":11.15},{"k":11,"x":285,"y":11.0},{"k":11,"x":380,"y":10.9},{"k":11,"x":467,"y":11.9},{"k":11,"x":489,"y":10.95},{"k":11,"x":600,"y":11.0},{"k":11,"x":699,"y":10.8},{"k":11,"x":730,"y":11.75},{"k":11,"x":745,"y":11.15},{"k":11,"x":866,"y":11.5},{"k":11,"x":896,"y":11.25},{"k":11,"x":1000,"y":11.3},{"k":11,"x":1153,"y":11.15},{"k":11,"x":1270,"y":11.2},{"k":11,"x":1380,"y":11.1},{"k":11,"x":1500,"y":11.15},{"k":11,"x":1580,"y":11.05},{"k":11,"x":1643,"y":11.35},{"k":11,"x":1690,"y":11.1},{"k":11,"x":1800,"y":11.2},{"k":11,"x":1900,"y":11.05},{"k":11,"x":2000,"y":11.15},{"k":11,"x":2100,"y":11.1},{"k":11,"x":2200,"y":11.2},{"k":11,"x":2330,"y":11.05},{"k":11,"x":2467,"y":11.55},{"k":11,"x":2527,"y":11.05},{"k":11,"x":2640,"y":11.15},{"k":11,"x":2750,"y":11.0},{"k":11,"x":2856,"y":11.05},
{"k":12,"x":1,"y":12.1},{"k":12,"x":120,"y":12.0},{"k":12,"x":250,"y":12.2},{"k":12,"x":376,"y":11.4},{"k":12,"x":394,"y":12.15},{"k":12,"x":467,"y":11.7},{"k":12,"x":478,"y":12.6},{"k":12,"x":490,"y":12.2},{"k":12,"x":600,"y":12.1},{"k":12,"x":699,"y":12.0},{"k":12,"x":790,"y":12.5},{"k":12,"x":820,"y":12.1},{"k":12,"x":900,"y":12.2},{"k":12,"x":973,"y":11.6},{"k":12,"x":995,"y":12.7},{"k":12,"x":1030,"y":12.1},{"k":12,"x":1150,"y":12.2},{"k":12,"x":1280,"y":12.05},{"k":12,"x":1416,"y":12.15},{"k":12,"x":1550,"y":12.05},{"k":12,"x":1700,"y":12.2},{"k":12,"x":1850,"y":12.1},{"k":12,"x":2022,"y":11.8},{"k":12,"x":2152,"y":12.0},{"k":12,"x":2300,"y":12.1},{"k":12,"x":2440,"y":12.0},{"k":12,"x":2558,"y":12.4},{"k":12,"x":2588,"y":12.05},{"k":12,"x":2710,"y":12.5},{"k":12,"x":2739,"y":12.1},{"k":12,"x":2856,"y":12.1},
{"k":13,"x":1,"y":13.05},{"k":13,"x":130,"y":12.95},{"k":13,"x":260,"y":13.1},{"k":13,"x":380,"y":13.0},{"k":13,"x":467,"y":12.0},{"k":13,"x":490,"y":13.0},{"k":13,"x":600,"y":13.05},{"k":13,"x":699,"y":12.95},{"k":13,"x":790,"y":13.3},{"k":13,"x":820,"y":13.1},{"k":13,"x":920,"y":13.15},{"k":13,"x":1002,"y":13.4},{"k":13,"x":1020,"y":13.05},{"k":13,"x":1150,"y":13.1},{"k":13,"x":1280,"y":12.95},{"k":13,"x":1416,"y":13.05},{"k":13,"x":1597,"y":12.8},{"k":13,"x":1613,"y":13.1},{"k":13,"x":1750,"y":13.15},{"k":13,"x":1871,"y":13.0},{"k":13,"x":2000,"y":13.05},{"k":13,"x":2134,"y":13.1},{"k":13,"x":2270,"y":13.2},{"k":13,"x":2400,"y":13.05},{"k":13,"x":2530,"y":13.15},{"k":13,"x":2660,"y":13.0},{"k":13,"x":2780,"y":13.1},{"k":13,"x":2856,"y":13.05},
{"k":14,"x":1,"y":13.95},{"k":14,"x":133,"y":14.3},{"k":14,"x":179,"y":14.0},{"k":14,"x":280,"y":14.05},{"k":14,"x":376,"y":13.5},{"k":14,"x":406,"y":14.1},{"k":14,"x":520,"y":14.15},{"k":14,"x":620,"y":14.0},{"k":14,"x":699,"y":14.05},{"k":14,"x":820,"y":14.0},{"k":14,"x":950,"y":14.15},{"k":14,"x":1080,"y":14.0},{"k":14,"x":1214,"y":13.6},{"k":14,"x":1245,"y":14.0},{"k":14,"x":1340,"y":14.05},{"k":14,"x":1446,"y":14.5},{"k":14,"x":1476,"y":14.15},{"k":14,"x":1600,"y":14.2},{"k":14,"x":1700,"y":14.1},{"k":14,"x":1795,"y":13.9},{"k":14,"x":1930,"y":13.95},{"k":14,"x":2052,"y":14.65},{"k":14,"x":2082,"y":14.1},{"k":14,"x":2200,"y":14.0},{"k":14,"x":2330,"y":14.05},{"k":14,"x":2467,"y":13.75},{"k":14,"x":2482,"y":14.3},{"k":14,"x":2497,"y":14.0},{"k":14,"x":2620,"y":14.05},{"k":14,"x":2740,"y":13.95},{"k":14,"x":2856,"y":14.0},
{"k":15,"x":1,"y":14.95},{"k":15,"x":110,"y":14.85},{"k":15,"x":220,"y":15.0},{"k":15,"x":330,"y":14.9},{"k":15,"x":436,"y":14.5},{"k":15,"x":482,"y":15.0},{"k":15,"x":600,"y":14.95},{"k":15,"x":699,"y":15.0},{"k":15,"x":850,"y":15.05},{"k":15,"x":973,"y":14.7},{"k":15,"x":1002,"y":15.0},{"k":15,"x":1110,"y":15.05},{"k":15,"x":1214,"y":15.2},{"k":15,"x":1330,"y":15.15},{"k":15,"x":1461,"y":15.45},{"k":15,"x":1507,"y":15.1},{"k":15,"x":1620,"y":15.15},{"k":15,"x":1750,"y":15.05},{"k":15,"x":1900,"y":15.15},{"k":15,"x":2052,"y":15.25},{"k":15,"x":2152,"y":15.0},{"k":15,"x":2280,"y":15.05},{"k":15,"x":2400,"y":14.95},{"k":15,"x":2467,"y":14.1},{"k":15,"x":2482,"y":15.05},{"k":15,"x":2600,"y":15.0},{"k":15,"x":2720,"y":15.1},{"k":15,"x":2856,"y":15.05},
{"k":16,"x":1,"y":16.0},{"k":16,"x":120,"y":15.95},{"k":16,"x":250,"y":16.1},{"k":16,"x":376,"y":15.3},{"k":16,"x":400,"y":15.5},{"k":16,"x":421,"y":15.95},{"k":16,"x":550,"y":16.05},{"k":16,"x":699,"y":16.0},{"k":16,"x":850,"y":15.95},{"k":16,"x":973,"y":15.4},{"k":16,"x":990,"y":15.6},{"k":16,"x":1010,"y":16.05},{"k":16,"x":1150,"y":16.0},{"k":16,"x":1300,"y":16.1},{"k":16,"x":1450,"y":16.0},{"k":16,"x":1600,"y":16.05},{"k":16,"x":1750,"y":15.95},{"k":16,"x":1900,"y":16.05},{"k":16,"x":2060,"y":15.6},{"k":16,"x":2080,"y":16.6},{"k":16,"x":2100,"y":15.8},{"k":16,"x":2120,"y":16.4},{"k":16,"x":2140,"y":16.0},{"k":16,"x":2250,"y":16.05},{"k":16,"x":2361,"y":15.8},{"k":16,"x":2376,"y":16.0},{"k":16,"x":2500,"y":16.05},{"k":16,"x":2650,"y":15.95},{"k":16,"x":2780,"y":16.05},{"k":16,"x":2856,"y":16.0},
{"k":17,"x":1,"y":16.95},{"k":17,"x":130,"y":17.0},{"k":17,"x":250,"y":16.9},{"k":17,"x":376,"y":17.4},{"k":17,"x":406,"y":17.05},{"k":17,"x":540,"y":17.1},{"k":17,"x":699,"y":17.0},{"k":17,"x":850,"y":17.05},{"k":17,"x":973,"y":16.8},{"k":17,"x":1040,"y":17.05},{"k":17,"x":1200,"y":17.0},{"k":17,"x":1350,"y":17.1},{"k":17,"x":1500,"y":17.0},{"k":17,"x":1650,"y":17.05},{"k":17,"x":1800,"y":16.95},{"k":17,"x":1950,"y":17.05},{"k":17,"x":2052,"y":16.5},{"k":17,"x":2070,"y":17.6},{"k":17,"x":2090,"y":16.7},{"k":17,"x":2110,"y":17.5},{"k":17,"x":2135,"y":17.0},{"k":17,"x":2260,"y":17.05},{"k":17,"x":2400,"y":16.95},{"k":17,"x":2540,"y":17.05},{"k":17,"x":2700,"y":17.0},{"k":17,"x":2856,"y":17.05},
{"k":18,"x":1,"y":18.0},{"k":18,"x":150,"y":17.95},{"k":18,"x":330,"y":17.7},{"k":18,"x":360,"y":17.95},{"k":18,"x":520,"y":18.05},{"k":18,"x":699,"y":18.0},{"k":18,"x":850,"y":18.05},{"k":18,"x":1002,"y":17.4},{"k":18,"x":1020,"y":18.0},{"k":18,"x":1200,"y":18.05},{"k":18,"x":1400,"y":17.95},{"k":18,"x":1600,"y":18.05},{"k":18,"x":1800,"y":18.0},{"k":18,"x":2000,"y":18.05},{"k":18,"x":2200,"y":17.95},{"k":18,"x":2350,"y":18.05},{"k":18,"x":2460,"y":18.6},{"k":18,"x":2510,"y":17.95},{"k":18,"x":2650,"y":18.0},{"k":18,"x":2856,"y":17.95},
{"k":19,"x":1,"y":19.0},{"k":19,"x":100,"y":19.1},{"k":19,"x":230,"y":18.95},{"k":19,"x":360,"y":19.05},{"k":19,"x":470,"y":18.6},{"k":19,"x":500,"y":19.0},{"k":19,"x":620,"y":19.1},{"k":19,"x":750,"y":18.95},{"k":19,"x":880,"y":19.05},{"k":19,"x":963,"y":18.7},{"k":19,"x":1000,"y":19.0},{"k":19,"x":1150,"y":19.1},{"k":19,"x":1300,"y":18.95},{"k":19,"x":1450,"y":19.05},{"k":19,"x":1600,"y":18.95},{"k":19,"x":1750,"y":19.05},{"k":19,"x":1900,"y":19.0},{"k":19,"x":2050,"y":19.1},{"k":19,"x":2200,"y":18.95},{"k":19,"x":2350,"y":19.05},{"k":19,"x":2500,"y":19.0},{"k":19,"x":2650,"y":19.1},{"k":19,"x":2800,"y":19.0},{"k":19,"x":2856,"y":19.0},
{"k":20,"x":1,"y":20.0},{"k":20,"x":140,"y":20.05},{"k":20,"x":280,"y":19.95},{"k":20,"x":450,"y":20.3},{"k":20,"x":480,"y":20.0},{"k":20,"x":620,"y":20.05},{"k":20,"x":760,"y":19.95},{"k":20,"x":900,"y":20.05},{"k":20,"x":1002,"y":20.3},{"k":20,"x":1020,"y":20.0},{"k":20,"x":1180,"y":20.05},{"k":20,"x":1340,"y":19.95},{"k":20,"x":1492,"y":19.7},{"k":20,"x":1507,"y":20.0},{"k":20,"x":1650,"y":20.05},{"k":20,"x":1800,"y":19.95},{"k":20,"x":1950,"y":20.05},{"k":20,"x":2100,"y":20.0},{"k":20,"x":2250,"y":20.05},{"k":20,"x":2400,"y":19.95},{"k":20,"x":2467,"y":19.7},{"k":20,"x":2482,"y":20.0},{"k":20,"x":2620,"y":20.05},{"k":20,"x":2760,"y":19.95},{"k":20,"x":2856,"y":20.0},
{"k":4,"x":30,"y":4.15},{"k":4,"x":90,"y":4.1},{"k":4,"x":150,"y":4.6},{"k":4,"x":270,"y":4.15},{"k":4,"x":340,"y":4.1},{"k":4,"x":460,"y":4.2},{"k":4,"x":540,"y":4.15},{"k":4,"x":690,"y":4.05},{"k":4,"x":870,"y":4.1},{"k":4,"x":1000,"y":4.15},{"k":4,"x":1200,"y":4.05},{"k":4,"x":1300,"y":4.05},{"k":4,"x":1420,"y":4.15},{"k":4,"x":1680,"y":4.35},{"k":4,"x":1760,"y":4.45},{"k":4,"x":1950,"y":4.1},{"k":4,"x":2040,"y":4.1},{"k":4,"x":2210,"y":4.25},{"k":4,"x":2310,"y":4.35},{"k":4,"x":2410,"y":4.4},{"k":4,"x":2510,"y":4.3},{"k":4,"x":2610,"y":4.2},{"k":4,"x":2820,"y":4.0},
{"k":5,"x":70,"y":5.4},{"k":5,"x":135,"y":5.4},{"k":5,"x":205,"y":5.45},{"k":5,"x":270,"y":5.5},{"k":5,"x":400,"y":5.35},{"k":5,"x":540,"y":5.15},{"k":5,"x":615,"y":5.3},{"k":5,"x":760,"y":5.15},{"k":5,"x":900,"y":4.6},{"k":5,"x":1040,"y":5.1},{"k":5,"x":1250,"y":5.1},{"k":5,"x":1340,"y":5.35},{"k":5,"x":1490,"y":5.2},{"k":5,"x":1590,"y":5.1},{"k":5,"x":1800,"y":4.8},{"k":5,"x":1900,"y":5.15},{"k":5,"x":2060,"y":4.85},{"k":5,"x":2220,"y":5.1},{"k":5,"x":2330,"y":4.55},{"k":5,"x":2450,"y":4.65},{"k":5,"x":2650,"y":5.15},{"k":5,"x":2750,"y":5.05},
{"k":6,"x":30,"y":5.95},{"k":6,"x":90,"y":6.05},{"k":6,"x":215,"y":6.2},{"k":6,"x":340,"y":6.15},{"k":6,"x":480,"y":5.85},{"k":6,"x":650,"y":5.8},{"k":6,"x":745,"y":5.6},{"k":6,"x":920,"y":6.05},{"k":6,"x":1110,"y":6.25},{"k":6,"x":1190,"y":6.5},{"k":6,"x":1270,"y":6.05},{"k":6,"x":1510,"y":6.0},{"k":6,"x":1600,"y":5.8},{"k":6,"x":1690,"y":5.85},{"k":6,"x":1790,"y":5.7},{"k":6,"x":1880,"y":6.5},{"k":6,"x":2040,"y":6.05},{"k":6,"x":2130,"y":6.05},{"k":6,"x":2240,"y":6.15},{"k":6,"x":2370,"y":6.15},{"k":6,"x":2500,"y":5.8},{"k":6,"x":2700,"y":5.95},{"k":6,"x":2820,"y":6.0},
{"k":7,"x":45,"y":7.15},{"k":7,"x":135,"y":7.05},{"k":7,"x":230,"y":7.05},{"k":7,"x":420,"y":7.4},{"k":7,"x":550,"y":7.1},{"k":7,"x":660,"y":6.95},{"k":7,"x":790,"y":7.05},{"k":7,"x":870,"y":7.55},{"k":7,"x":960,"y":7.0},{"k":7,"x":1200,"y":6.9},{"k":7,"x":1300,"y":6.8},{"k":7,"x":1380,"y":6.85},{"k":7,"x":1610,"y":7.05},{"k":7,"x":1690,"y":7.05},{"k":7,"x":1870,"y":7.1},{"k":7,"x":1990,"y":7.0},{"k":7,"x":2130,"y":7.0},{"k":7,"x":2340,"y":7.0},{"k":7,"x":2460,"y":7.1},{"k":7,"x":2550,"y":6.8},{"k":7,"x":2630,"y":7.15},{"k":7,"x":2800,"y":6.85},
{"k":8,"x":40,"y":8.1},{"k":8,"x":125,"y":8.0},{"k":8,"x":215,"y":8.0},{"k":8,"x":300,"y":8.05},{"k":8,"x":380,"y":7.95},{"k":8,"x":570,"y":7.95},{"k":8,"x":660,"y":8.05},{"k":8,"x":750,"y":7.95},{"k":8,"x":850,"y":8.0},{"k":8,"x":980,"y":8.0},{"k":8,"x":1090,"y":8.1},{"k":8,"x":1200,"y":8.35},{"k":8,"x":1290,"y":8.1},{"k":8,"x":1470,"y":8.05},{"k":8,"x":1570,"y":7.95},{"k":8,"x":1670,"y":8.05},{"k":8,"x":1770,"y":8.0},{"k":8,"x":1870,"y":8.1},{"k":8,"x":1980,"y":8.0},{"k":8,"x":2190,"y":7.95},{"k":8,"x":2300,"y":8.4},{"k":8,"x":2400,"y":8.3},{"k":8,"x":2520,"y":8.35},{"k":8,"x":2670,"y":8.1},{"k":8,"x":2770,"y":7.95},
{"k":9,"x":35,"y":9.0},{"k":9,"x":100,"y":9.1},{"k":9,"x":195,"y":8.95},{"k":9,"x":285,"y":9.05},{"k":9,"x":380,"y":9.1},{"k":9,"x":530,"y":9.05},{"k":9,"x":640,"y":8.95},{"k":9,"x":745,"y":9.05},{"k":9,"x":950,"y":8.95},{"k":9,"x":1040,"y":9.0},{"k":9,"x":1190,"y":9.3},{"k":9,"x":1280,"y":9.15},{"k":9,"x":1370,"y":9.0},{"k":9,"x":1555,"y":9.05},{"k":9,"x":1660,"y":9.15},{"k":9,"x":1780,"y":9.15},{"k":9,"x":1900,"y":9.2},{"k":9,"x":2000,"y":9.3},{"k":9,"x":2130,"y":9.1},{"k":9,"x":2220,"y":9.2},{"k":9,"x":2310,"y":9.35},{"k":9,"x":2420,"y":9.1},{"k":9,"x":2540,"y":9.0},{"k":9,"x":2660,"y":9.05},{"k":9,"x":2790,"y":8.95},
{"k":10,"x":55,"y":10.1},{"k":10,"x":160,"y":10.0},{"k":10,"x":280,"y":10.2},{"k":10,"x":380,"y":10.05},{"k":10,"x":620,"y":9.95},{"k":10,"x":745,"y":10.1},{"k":10,"x":835,"y":10.0},{"k":10,"x":950,"y":10.2},{"k":10,"x":1050,"y":10.05},{"k":10,"x":1150,"y":10.15},{"k":10,"x":1250,"y":10.05},{"k":10,"x":1350,"y":10.1},{"k":10,"x":1550,"y":10.15},{"k":10,"x":1650,"y":10.05},{"k":10,"x":1750,"y":10.1},{"k":10,"x":1850,"y":9.95},{"k":10,"x":1950,"y":10.05},{"k":10,"x":2040,"y":10.0},{"k":10,"x":2200,"y":10.0},{"k":10,"x":2300,"y":10.1},{"k":10,"x":2400,"y":10.05},{"k":10,"x":2500,"y":10.15},{"k":10,"x":2600,"y":10.05},{"k":10,"x":2700,"y":10.0},{"k":10,"x":2800,"y":10.1},
{"k":11,"x":50,"y":11.1},{"k":11,"x":155,"y":11.05},{"k":11,"x":250,"y":11.05},{"k":11,"x":330,"y":11.1},{"k":11,"x":420,"y":11.0},{"k":11,"x":545,"y":11.05},{"k":11,"x":650,"y":10.9},{"k":11,"x":800,"y":11.05},{"k":11,"x":950,"y":11.2},{"k":11,"x":1080,"y":11.2},{"k":11,"x":1210,"y":11.25},{"k":11,"x":1330,"y":11.1},{"k":11,"x":1440,"y":11.2},{"k":11,"x":1540,"y":11.05},{"k":11,"x":1745,"y":11.2},{"k":11,"x":1850,"y":11.1},{"k":11,"x":1950,"y":11.15},{"k":11,"x":2050,"y":11.05},{"k":11,"x":2150,"y":11.2},{"k":11,"x":2260,"y":11.1},{"k":11,"x":2400,"y":11.15},{"k":11,"x":2580,"y":11.15},{"k":11,"x":2700,"y":11.05},{"k":11,"x":2800,"y":11.1},
{"k":12,"x":60,"y":12.0},{"k":12,"x":185,"y":12.1},{"k":12,"x":310,"y":12.1},{"k":12,"x":430,"y":12.05},{"k":12,"x":545,"y":12.1},{"k":12,"x":650,"y":12.2},{"k":12,"x":745,"y":12.1},{"k":12,"x":860,"y":12.0},{"k":12,"x":1090,"y":12.2},{"k":12,"x":1215,"y":12.1},{"k":12,"x":1350,"y":12.15},{"k":12,"x":1480,"y":12.05},{"k":12,"x":1620,"y":12.15},{"k":12,"x":1775,"y":12.1},{"k":12,"x":1930,"y":12.2},{"k":12,"x":2090,"y":11.9},{"k":12,"x":2225,"y":12.1},{"k":12,"x":2370,"y":12.0},{"k":12,"x":2500,"y":12.1},{"k":12,"x":2650,"y":12.15},{"k":12,"x":2800,"y":12.0},
{"k":13,"x":65,"y":12.95},{"k":13,"x":195,"y":13.05},{"k":13,"x":320,"y":13.0},{"k":13,"x":425,"y":13.1},{"k":13,"x":545,"y":13.1},{"k":13,"x":650,"y":12.95},{"k":13,"x":745,"y":13.05},{"k":13,"x":870,"y":13.0},{"k":13,"x":960,"y":13.05},{"k":13,"x":1085,"y":13.15},{"k":13,"x":1215,"y":13.0},{"k":13,"x":1350,"y":13.05},{"k":13,"x":1500,"y":12.95},{"k":13,"x":1680,"y":13.0},{"k":13,"x":1810,"y":13.05},{"k":13,"x":1935,"y":13.1},{"k":13,"x":2070,"y":12.95},{"k":13,"x":2200,"y":13.0},{"k":13,"x":2335,"y":13.1},{"k":13,"x":2465,"y":13.15},{"k":13,"x":2595,"y":13.05},{"k":13,"x":2720,"y":13.1},{"k":13,"x":2820,"y":13.0},
{"k":14,"x":65,"y":14.05},{"k":14,"x":230,"y":14.1},{"k":14,"x":330,"y":13.95},{"k":14,"x":460,"y":14.0},{"k":14,"x":570,"y":14.05},{"k":14,"x":760,"y":13.95},{"k":14,"x":885,"y":14.1},{"k":14,"x":1015,"y":14.05},{"k":14,"x":1150,"y":14.1},{"k":14,"x":1290,"y":14.1},{"k":14,"x":1390,"y":13.95},{"k":14,"x":1540,"y":14.05},{"k":14,"x":1650,"y":14.1},{"k":14,"x":1750,"y":14.2},{"k":14,"x":1860,"y":14.0},{"k":14,"x":1990,"y":14.05},{"k":14,"x":2140,"y":14.0},{"k":14,"x":2260,"y":14.1},{"k":14,"x":2400,"y":13.95},{"k":14,"x":2560,"y":14.1},{"k":14,"x":2680,"y":13.95},{"k":14,"x":2800,"y":14.05},
{"k":15,"x":55,"y":15.05},{"k":15,"x":165,"y":14.95},{"k":15,"x":275,"y":14.9},{"k":15,"x":385,"y":15.0},{"k":15,"x":540,"y":14.9},{"k":15,"x":650,"y":15.05},{"k":15,"x":775,"y":14.95},{"k":15,"x":910,"y":14.95},{"k":15,"x":1055,"y":15.1},{"k":15,"x":1160,"y":14.95},{"k":15,"x":1270,"y":15.1},{"k":15,"x":1395,"y":15.25},{"k":15,"x":1565,"y":15.0},{"k":15,"x":1690,"y":15.05},{"k":15,"x":1825,"y":15.15},{"k":15,"x":1975,"y":15.05},{"k":15,"x":2100,"y":15.15},{"k":15,"x":2215,"y":15.1},{"k":15,"x":2340,"y":14.95},{"k":15,"x":2540,"y":15.0},{"k":15,"x":2660,"y":15.1},{"k":15,"x":2790,"y":15.0},
{"k":16,"x":60,"y":16.1},{"k":16,"x":185,"y":16.05},{"k":16,"x":310,"y":16.0},{"k":16,"x":485,"y":16.05},{"k":16,"x":620,"y":15.95},{"k":16,"x":770,"y":16.1},{"k":16,"x":910,"y":16.05},{"k":16,"x":1080,"y":15.95},{"k":16,"x":1225,"y":16.1},{"k":16,"x":1375,"y":16.0},{"k":16,"x":1525,"y":16.1},{"k":16,"x":1675,"y":15.95},{"k":16,"x":1825,"y":16.05},{"k":16,"x":1980,"y":15.95},{"k":16,"x":2195,"y":16.1},{"k":16,"x":2300,"y":15.95},{"k":16,"x":2440,"y":16.1},{"k":16,"x":2575,"y":15.95},{"k":16,"x":2715,"y":16.05},{"k":16,"x":2820,"y":15.95},
{"k":17,"x":65,"y":17.05},{"k":17,"x":190,"y":16.9},{"k":17,"x":310,"y":17.0},{"k":17,"x":470,"y":16.95},{"k":17,"x":620,"y":17.0},{"k":17,"x":775,"y":17.1},{"k":17,"x":910,"y":16.95},{"k":17,"x":1120,"y":16.95},{"k":17,"x":1275,"y":17.1},{"k":17,"x":1425,"y":17.0},{"k":17,"x":1575,"y":17.1},{"k":17,"x":1725,"y":16.95},{"k":17,"x":1875,"y":17.05},{"k":17,"x":2000,"y":16.95},{"k":17,"x":2200,"y":17.1},{"k":17,"x":2330,"y":16.95},{"k":17,"x":2470,"y":17.05},{"k":17,"x":2620,"y":16.95},{"k":17,"x":2780,"y":17.1},
{"k":18,"x":75,"y":18.1},{"k":18,"x":240,"y":18.05},{"k":18,"x":440,"y":18.05},{"k":18,"x":610,"y":17.95},{"k":18,"x":775,"y":18.1},{"k":18,"x":925,"y":17.95},{"k":18,"x":1110,"y":18.1},{"k":18,"x":1300,"y":17.95},{"k":18,"x":1500,"y":18.05},{"k":18,"x":1700,"y":17.95},{"k":18,"x":1900,"y":18.1},{"k":18,"x":2100,"y":17.95},{"k":18,"x":2275,"y":18.05},{"k":18,"x":2405,"y":17.95},{"k":18,"x":2580,"y":18.05},{"k":18,"x":2750,"y":17.9},
{"k":19,"x":50,"y":19.1},{"k":19,"x":165,"y":19.0},{"k":19,"x":295,"y":19.05},{"k":19,"x":415,"y":18.95},{"k":19,"x":560,"y":19.1},{"k":19,"x":685,"y":19.0},{"k":19,"x":815,"y":19.05},{"k":19,"x":920,"y":18.95},{"k":19,"x":1075,"y":19.1},{"k":19,"x":1225,"y":19.0},{"k":19,"x":1375,"y":19.05},{"k":19,"x":1525,"y":18.95},{"k":19,"x":1675,"y":19.05},{"k":19,"x":1825,"y":18.95},{"k":19,"x":1975,"y":19.1},{"k":19,"x":2125,"y":19.0},{"k":19,"x":2275,"y":19.05},{"k":19,"x":2425,"y":18.95},{"k":19,"x":2575,"y":19.1},{"k":19,"x":2725,"y":19.0},
{"k":20,"x":70,"y":20.1},{"k":20,"x":210,"y":19.95},{"k":20,"x":365,"y":20.05},{"k":20,"x":550,"y":20.1},{"k":20,"x":690,"y":19.95},{"k":20,"x":830,"y":20.05},{"k":20,"x":950,"y":19.95},{"k":20,"x":1100,"y":20.1},{"k":20,"x":1260,"y":19.95},{"k":20,"x":1415,"y":20.05},{"k":20,"x":1580,"y":20.1},{"k":20,"x":1725,"y":19.95},{"k":20,"x":1875,"y":20.05},{"k":20,"x":2025,"y":19.95},{"k":20,"x":2175,"y":20.1},{"k":20,"x":2325,"y":19.95},{"k":20,"x":2550,"y":20.1},{"k":20,"x":2690,"y":19.95},{"k":20,"x":2810,"y":20.05}
]
},
"vconcat":[
{"title":{"text":"a","anchor":"start","fontSize":17,"offset":1},
 "vconcat":[{
 "title":{"text":"ICA signals","anchor":"middle","frame":"group","offset":3},
 "width":629,"height":177,
 "data":{"name":"ica"},
 "encoding":{
  "color":{"field":"k","type":"nominal","scale":{"domain":[1,2,3,4,5,6,7,8,9,10,11,12,13,14,15,16,17,18,19,20],"range":["#0072BD","#D95319","#EDB120","#7E2F8E","#77AC30","#4DBEEE","#A2142F","#0072BD","#D95319","#EDB120","#7E2F8E","#77AC30","#4DBEEE","#A2142F","#0072BD","#D95319","#EDB120","#7E2F8E","#77AC30","#4DBEEE"]},"legend":null}
 },
 "layer":[
  {"mark":{"type":"line","interpolate":"step-after","strokeWidth":1.2,"clip":true},
   "encoding":{
    "x":{"field":"x","type":"quantitative","scale":{"domain":[1,2856],"nice":false,"zero":false},"axis":{"values":[500,1000,1500,2000,2500],"format":"d","title":"Observations","labelPadding":13,"titlePadding":14}},
    "y":{"field":"y","type":"quantitative","scale":{"domain":[0.15,20.7],"reverse":true,"nice":false,"zero":false},"axis":{"values":[1,10,20],"format":"d","title":"Cluster","labelPadding":11,"titlePadding":11}}
   }},
  {"mark":{"type":"point","opacity":0},
   "encoding":{
    "x":{"field":"x","type":"quantitative","axis":{"orient":"top","values":[500,1000,1500,2000,2500],"labels":false,"title":null}},
    "y":{"field":"y","type":"quantitative","axis":{"orient":"right","values":[1,10,20],"labels":false,"title":null}}
   }}
 ],
 "resolve":{"axis":{"x":"independent","y":"independent"}}
 }]
},
{"title":{"text":"b","anchor":"start","fontSize":17,"offset":-14,"dy":3},
 "vconcat":[{
 "title":{"text":"PCA signals","anchor":"middle","frame":"group","offset":6},
 "width":629,"height":187,
 "encoding":{
  "color":{"field":"k","type":"nominal","scale":{"domain":[1,2,3,4,5,6,7,8,9,10,11,12,13,14,15,16,17,18,19,20],"range":["#0072BD","#D95319","#EDB120","#7E2F8E","#77AC30","#4DBEEE","#A2142F","#0072BD","#D95319","#EDB120","#7E2F8E","#77AC30","#4DBEEE","#A2142F","#0072BD","#D95319","#EDB120","#7E2F8E","#77AC30","#4DBEEE"]},"legend":null}
 },
 "layer":[
  {"data":{"name":"pcaTop"},"transform":[{"filter":"datum.k == 1"}],"mark":{"type":"line","strokeWidth":1.1,"clip":true},
   "encoding":{"x":{"field":"x","type":"quantitative","axis":null},"y":{"field":"y","type":"quantitative","axis":null}}},
  {"data":{"name":"pcaTop"},"transform":[{"filter":"datum.k == 2"}],"mark":{"type":"line","strokeWidth":1.4,"clip":true},
   "encoding":{"x":{"field":"x","type":"quantitative","axis":null},"y":{"field":"y","type":"quantitative","axis":null}}},
  {"data":{"name":"pcaTop"},"transform":[{"filter":"datum.k == 3"}],"mark":{"type":"line","strokeWidth":1.5,"clip":true},
   "encoding":{"x":{"field":"x","type":"quantitative","axis":null},"y":{"field":"y","type":"quantitative","axis":null}}},
  {"data":{"name":"pcaRest"},"mark":{"type":"line","interpolate":"step-after","strokeWidth":1.2,"clip":true},
   "encoding":{
    "x":{"field":"x","type":"quantitative","scale":{"domain":[1,2856],"nice":false,"zero":false},"axis":{"values":[500,1000,1500,2000,2500],"format":"d","title":"Observations","labelPadding":13,"titlePadding":11}},
    "y":{"field":"y","type":"quantitative","scale":{"domain":[-0.75,21.15],"reverse":true,"nice":false,"zero":false},"axis":{"values":[1,10,20],"format":"d","title":"Cluster","labelPadding":11,"titlePadding":11}}
   }},
  {"data":{"name":"pcaRest"},"mark":{"type":"point","opacity":0},
   "encoding":{
    "x":{"field":"x","type":"quantitative","axis":{"orient":"top","values":[500,1000,1500,2000,2500],"labels":false,"title":null}},
    "y":{"field":"y","type":"quantitative","axis":{"orient":"right","values":[1,10,20],"labels":false,"title":null}}
   }}
 ],
 "resolve":{"axis":{"x":"independent","y":"independent"}}
 }]
}
]
}
